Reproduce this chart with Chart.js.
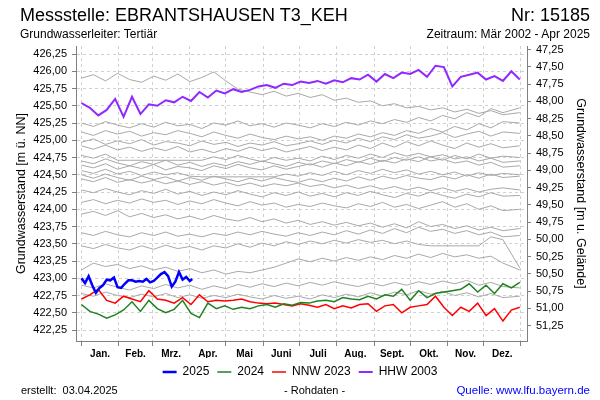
<!DOCTYPE html>
<html>
<head>
<meta charset="utf-8">
<script src="https://cdn.jsdelivr.net/npm/chart.js@4"></script>
<style>
  html, body { margin: 0; padding: 0; background: #fff; }
  #wrap { position: relative; width: 600px; height: 400px; font-family: 'Liberation Sans', Arial, sans-serif; color: #000; }
  #wrap canvas { position: absolute; left: 0; top: 0; }
  .txt { position: absolute; white-space: nowrap; line-height: 1; }
</style>
</head>
<body>
<div id="wrap">
  <canvas id="chart" width="600" height="400"></canvas>
  <div class="txt" style="left:20px; top:6px; font-size:18px;">Messstelle: EBRANTSHAUSEN T3_KEH</div>
  <div class="txt" style="right:10px; top:6px; font-size:18px;">Nr: 15185</div>
  <div class="txt" style="left:20px; top:28px; font-size:12px;">Grundwasserleiter: Tertiär</div>
  <div class="txt" style="right:10px; top:28px; font-size:12px;">Zeitraum: Mär 2002 - Apr 2025</div>
  <div class="txt" style="left:21px; top:385px; font-size:11px;">erstellt:&nbsp; 03.04.2025</div>
  <div class="txt" style="left:284px; top:385px; font-size:11px;">- Rohdaten -</div>
  <div class="txt" style="right:10px; top:385px; font-size:11.5px; color:#0000ff;">Quelle: www.lfu.bayern.de</div>
</div>
<script>

  /* ===================== DATA ===================== */

  // day of year (Jan 1 = 0)
  const monthStarts = [0, 31, 59, 90, 120, 151, 181, 212, 243, 273, 304, 334, 365];
  const monthNames = ['Jan.', 'Feb.', 'Mrz.', 'Apr.', 'Mai', 'Juni', 'Juli', 'Aug.', 'Sept.', 'Okt.', 'Nov.', 'Dez.'];

  const leftTicks = [422.25, 422.50, 422.75, 423.00, 423.25, 423.50, 423.75, 424.00, 424.25,
    424.50, 424.75, 425.00, 425.25, 425.50, 425.75, 426.00, 426.25];
  const rightTicks = [47.25, 47.50, 47.75, 48.00, 48.25, 48.50, 48.75, 49.00, 49.25,
    49.50, 49.75, 50.00, 50.25, 50.50, 50.75, 51.00, 51.25];

  const weekDays = [0, 7, 14, 21, 28, 35, 42, 49, 56, 63, 70, 77, 84, 91, 98, 105, 112, 119, 126, 133,
    140, 147, 154, 161, 168, 175, 182, 189, 196, 203, 210, 217, 224, 231, 238, 245, 252, 259, 266, 273,
    280, 287, 294, 301, 308, 315, 322, 329, 336, 343, 350, 357, 364];

  const days2025 = [0, 3, 6, 9, 12, 15, 18, 21, 24, 27, 30, 33, 36, 39, 42, 45, 48, 51, 54, 57,
    60, 63, 66, 69, 72, 75, 78, 81, 84, 87, 90, 92];

  const greyDays = [0, 10, 20, 30, 40, 50, 60, 70, 80, 90, 100, 110, 120, 130, 140, 150, 160, 170,
    180, 190, 200, 210, 220, 230, 240, 250, 260, 270, 280, 290, 300, 310, 320, 330, 340, 350, 364];

  const year2025 = [423.00, 422.93, 423.03, 422.90, 422.79, 422.86, 422.90, 422.98, 422.97, 423.01,
    422.87, 422.86, 422.92, 422.97, 422.97, 422.95, 422.96, 422.95, 422.99, 422.94, 422.96, 423.01,
    423.06, 423.09, 423.03, 422.88, 422.95, 423.09, 422.98, 423.02, 422.96, 422.99];

  const year2024 = [422.62, 422.52, 422.48, 422.42, 422.47, 422.54, 422.66, 422.52, 422.68, 422.56,
    422.50, 422.55, 422.68, 422.49, 422.43, 422.64, 422.56, 422.60, 422.55, 422.58,
    422.56, 422.60, 422.62, 422.58, 422.63, 422.61, 422.65, 422.64, 422.67, 422.68,
    422.66, 422.72, 422.70, 422.69, 422.74, 422.70, 422.76, 422.74, 422.84, 422.68,
    422.82, 422.72, 422.78, 422.80, 422.82, 422.84, 422.92, 422.80, 422.90, 422.78,
    422.92, 422.86, 422.94];

  const nnw2023 = [422.70, 422.76, 422.84, 422.68, 422.64, 422.74, 422.70, 422.66, 422.82, 422.70,
    422.68, 422.64, 422.72, 422.62, 422.76, 422.66, 422.68, 422.67, 422.68, 422.70,
    422.66, 422.64, 422.63, 422.64, 422.62, 422.60, 422.63, 422.61, 422.58, 422.62,
    422.56, 422.60, 422.57, 422.62, 422.63, 422.52, 422.60, 422.62, 422.50, 422.58,
    422.60, 422.62, 422.74, 422.58, 422.46, 422.58, 422.52, 422.64, 422.46, 422.56,
    422.38, 422.54, 422.58];

  const hhw2003 = [425.54, 425.47, 425.36, 425.44, 425.60, 425.34, 425.63, 425.38, 425.52, 425.50,
    425.58, 425.55, 425.63, 425.57, 425.70, 425.62, 425.72, 425.68, 425.74, 425.70,
    425.73, 425.78, 425.80, 425.76, 425.82, 425.80, 425.85, 425.83, 425.86, 425.82,
    425.87, 425.84, 425.90, 425.88, 425.95, 425.85, 425.96, 425.90, 425.98, 425.96,
    426.02, 425.92, 426.08, 426.06, 425.78, 425.92, 425.95, 425.98, 425.88, 425.93,
    425.86, 426.00, 425.88];

  // other years of the record (grey)
  const grey01 = [425.90, 425.95, 425.86, 425.97, 425.88, 425.84, 425.93, 425.87, 425.96, 425.85, 425.91, 425.99, 425.86, 425.74, 425.70, 425.66, 425.71, 425.64, 425.68, 425.62, 425.66, 425.58, 425.61, 425.55, 425.57, 425.50, 425.53, 425.47, 425.49, 425.44, 425.47, 425.41, 425.45, 425.39, 425.43, 425.37, 425.40];
  const grey02 = [425.25, 425.20, 425.27, 425.22, 425.18, 425.24, 425.19, 425.26, 425.21, 425.23, 425.17, 425.25, 425.22, 425.28, 425.21, 425.24, 425.19, 425.25, 425.22, 425.18, 425.24, 425.20, 425.26, 425.22, 425.28, 425.24, 425.30, 425.26, 425.33, 425.28, 425.36, 425.31, 425.40, 425.34, 425.46, 425.40, 425.47];
  const grey03 = [425.12, 425.07, 425.14, 425.09, 425.13, 425.06, 425.11, 425.08, 425.14, 425.10, 425.05, 425.12, 425.07, 425.03, 425.09, 425.04, 425.01, 425.06, 425.02, 425.05, 425.00, 425.06, 425.03, 425.09, 425.05, 425.11, 425.07, 425.14, 425.10, 425.17, 425.12, 425.20, 425.15, 425.24, 425.18, 425.27, 425.25];
  const grey04 = [424.97, 425.02, 424.94, 424.99, 424.95, 425.01, 424.93, 424.98, 424.96, 424.92, 424.99, 424.94, 424.97, 424.91, 424.96, 424.93, 424.98, 424.92, 424.95, 424.99, 424.94, 425.00, 424.96, 425.03, 424.98, 425.05, 425.01, 425.08, 425.03, 425.06, 425.11, 425.04, 425.09, 425.13, 425.06, 425.12, 425.10];
  const grey05 = [424.92, 424.87, 424.93, 424.86, 424.90, 424.84, 424.89, 424.85, 424.91, 424.83, 424.87, 424.82, 424.88, 424.84, 424.90, 424.85, 424.89, 424.83, 424.87, 424.91, 424.85, 424.90, 424.86, 424.93, 424.88, 424.96, 424.90, 424.98, 424.92, 424.99, 424.93, 424.88, 424.96, 424.90, 424.95, 424.89, 424.92];
  const grey06 = [424.78, 424.74, 424.80, 424.71, 424.71, 424.71, 424.71, 424.71, 424.71, 424.71, 424.71, 424.76, 424.72, 424.78, 424.73, 424.69, 424.75, 424.71, 424.74, 424.70, 424.77, 424.72, 424.78, 424.74, 424.80, 424.75, 424.82, 424.77, 424.81, 424.76, 424.79, 424.73, 424.76, 424.70, 424.74, 424.68, 424.70];
  const grey07 = [424.70, 424.66, 424.73, 424.67, 424.63, 424.69, 424.65, 424.71, 424.64, 424.68, 424.62, 424.67, 424.63, 424.69, 424.65, 424.70, 424.66, 424.62, 424.68, 424.64, 424.70, 424.66, 424.72, 424.68, 424.74, 424.69, 424.75, 424.71, 424.76, 424.70, 424.73, 424.67, 424.70, 424.64, 424.68, 424.61, 424.63];
  const grey08 = [424.64, 424.60, 424.66, 424.58, 424.63, 424.59, 424.65, 424.57, 424.62, 424.60, 424.56, 424.63, 424.59, 424.65, 424.60, 424.57, 424.63, 424.58, 424.62, 424.66, 424.61, 424.67, 424.63, 424.69, 424.65, 424.71, 424.67, 424.73, 424.69, 424.76, 424.71, 424.78, 424.73, 424.80, 424.74, 424.77, 424.75];
  const grey09 = [424.56, 424.52, 424.58, 424.51, 424.55, 424.49, 424.54, 424.50, 424.53, 424.48, 424.47, 424.47, 424.47, 424.47, 424.47, 424.47, 424.47, 424.51, 424.48, 424.53, 424.49, 424.55, 424.50, 424.56, 424.52, 424.58, 424.53, 424.57, 424.51, 424.55, 424.50, 424.54, 424.48, 424.53, 424.49, 424.52, 424.50];
  const grey10 = [424.50, 424.45, 424.51, 424.46, 424.42, 424.48, 424.43, 424.47, 424.41, 424.46, 424.42, 424.48, 424.44, 424.40, 424.45, 424.41, 424.46, 424.42, 424.39, 424.44, 424.40, 424.45, 424.41, 424.47, 424.42, 424.48, 424.44, 424.49, 424.45, 424.43, 424.48, 424.44, 424.50, 424.45, 424.51, 424.46, 424.48];
  const grey11 = [424.44, 424.40, 424.46, 424.39, 424.43, 424.38, 424.42, 424.37, 424.41, 424.36, 424.40, 424.35, 424.39, 424.34, 424.38, 424.33, 424.37, 424.34, 424.38, 424.33, 424.36, 424.31, 424.35, 424.30, 424.34, 424.29, 424.33, 424.28, 424.32, 424.27, 424.31, 424.26, 424.30, 424.25, 424.29, 424.31, 424.28];
  const grey12 = [424.28, 424.24, 424.30, 424.25, 424.21, 424.27, 424.23, 424.29, 424.22, 424.26, 424.20, 424.25, 424.21, 424.27, 424.22, 424.18, 424.24, 424.20, 424.25, 424.19, 424.23, 424.18, 424.24, 424.20, 424.26, 424.21, 424.17, 424.23, 424.19, 424.25, 424.20, 424.16, 424.22, 424.18, 424.24, 424.19, 424.20];
  const grey13 = [424.10, 424.14, 424.08, 424.13, 424.09, 424.15, 424.10, 424.13, 424.07, 424.12, 424.08, 424.14, 424.09, 424.05, 424.11, 424.06, 424.09, 424.03, 424.07, 424.04, 424.09, 424.05, 424.02, 424.08, 424.04, 424.10, 424.03, 424.07, 424.01, 424.06, 424.11, 424.03, 424.08, 424.00, 424.05, 423.98, 424.00];
  const grey14 = [423.93, 423.97, 423.91, 423.98, 423.89, 423.94, 423.88, 423.92, 423.86, 423.90, 423.85, 423.91, 423.86, 423.83, 423.88, 423.82, 423.86, 423.80, 423.84, 423.78, 423.82, 423.77, 423.81, 423.76, 423.80, 423.74, 423.79, 423.73, 423.82, 423.75, 423.78, 423.72, 423.76, 423.70, 423.74, 423.69, 423.72];
  const grey15 = [423.66, 423.62, 423.68, 423.63, 423.60, 423.66, 423.62, 423.67, 423.61, 423.64, 423.60, 423.65, 423.62, 423.67, 423.63, 423.68, 423.64, 423.61, 423.66, 423.62, 423.67, 423.63, 423.69, 423.64, 423.70, 423.65, 423.72, 423.66, 423.74, 423.68, 423.71, 423.65, 423.69, 423.63, 423.67, 423.60, 423.62];
  const grey16 = [423.47, 423.43, 423.49, 423.44, 423.41, 423.47, 423.42, 423.48, 423.43, 423.46, 423.41, 423.47, 423.44, 423.50, 423.45, 423.51, 423.47, 423.53, 423.49, 423.54, 423.50, 423.55, 423.51, 423.56, 423.52, 423.55, 423.50, 423.54, 423.49, 423.47, 423.47, 423.47, 423.47, 423.47, 423.60, 423.56, 423.15];
  const grey17 = [423.12, 423.22, 423.17, 423.20, 423.14, 423.18, 423.12, 423.16, 423.10, 423.14, 423.08, 423.12, 423.06, 423.10, 423.08, 423.12, 423.16, 423.22, 423.28, 423.24, 423.29, 423.25, 423.30, 423.26, 423.31, 423.27, 423.33, 423.29, 423.35, 423.30, 423.36, 423.31, 423.34, 423.29, 423.32, 423.22, 423.12];
  const grey18 = [422.90, 422.86, 422.92, 422.87, 422.83, 422.89, 422.85, 422.91, 422.86, 422.90, 422.84, 422.89, 422.85, 422.91, 422.87, 422.92, 422.88, 422.93, 422.89, 422.94, 422.90, 422.95, 422.91, 422.88, 422.93, 422.89, 422.94, 422.90, 422.95, 422.91, 422.96, 422.92, 422.97, 422.90, 422.94, 422.88, 422.86];
  const grey19 = [422.78, 422.74, 422.80, 422.75, 422.72, 422.77, 422.73, 422.78, 422.72, 422.76, 422.71, 422.75, 422.72, 422.77, 422.73, 422.70, 422.75, 422.71, 422.74, 422.70, 422.76, 422.72, 422.77, 422.73, 422.79, 422.74, 422.80, 422.76, 422.82, 422.77, 422.81, 422.75, 422.79, 422.73, 422.78, 422.72, 422.74];

  const greyLines = [grey01, grey02, grey03, grey04, grey05, grey06, grey07, grey08, grey09, grey10,
    grey11, grey12, grey13, grey14, grey15, grey16, grey17, grey18, grey19];

  /* ===================== CHART ===================== */

  const gridColor = 'rgb(208, 208, 208)';
  const axisColor = 'rgb(128, 128, 128)';
  const greyColor = 'rgb(168, 168, 168)';

  Chart.defaults.font.family = "'Liberation Sans', Arial, sans-serif";
  Chart.defaults.color = '#000';

  let monthMids = monthStarts.slice(0, 12).map((s, i) => (s + monthStarts[i + 1]) / 2);
  let xTicks = monthStarts.concat(monthMids).sort((a, b) => a - b);
  let isStart = c => c.tick && monthStarts.includes(c.tick.value);

  let xy = (xs, ys) => ys.map((v, i) => ({ x: xs[i], y: v }));
  let comma = v => v.toFixed(2).replace('.', ',');

  let datasets = [
    { label: '2025', data: xy(days2025, year2025), borderColor: 'rgb(0, 0, 255)', borderWidth: 2.5 },
    { label: '2024', data: xy(weekDays, year2024), borderColor: 'rgb(30, 130, 30)', borderWidth: 1.5 },
    { label: 'NNW 2023', data: xy(weekDays, nnw2023), borderColor: 'rgb(255, 0, 0)', borderWidth: 1.5 },
    { label: 'HHW 2003', data: xy(weekDays, hhw2003), borderColor: 'rgb(145, 40, 255)', borderWidth: 2 },
  ];
  greyLines.forEach((g, i) => {
    datasets.push({ label: 'grey' + (i + 1), data: xy(greyDays, g), borderColor: greyColor, borderWidth: 1 });
  });

  new Chart(document.getElementById('chart'), {
    type: 'line',
    data: { datasets },
    options: {
      responsive: false,
      animation: false,
      elements: { point: { radius: 0 }, line: { tension: 0 } },
      layout: { padding: { top: 46, bottom: 12, left: 0, right: 0 } },
      plugins: {
        tooltip: { enabled: false },
        legend: {
          position: 'bottom',
          labels: {
            filter: item => item.datasetIndex < 4,
            usePointStyle: true,
            pointStyle: 'line',
            pointStyleWidth: 14,
            font: { size: 12 },
            color: '#000',
            padding: 8
          }
        }
      },
      scales: {
        x: {
          type: 'linear',
          min: -4.5,
          max: 370,
          afterBuildTicks: s => { s.ticks = xTicks.map(v => ({ value: v })); },
          afterFit: s => { s.height = 17; },
          ticks: {
            autoSkip: false,
            maxRotation: 0,
            padding: 2,
            font: { size: 10, weight: 'bold' },
            color: '#000',
            callback: v => { let i = monthMids.indexOf(v); return i >= 0 ? monthNames[i] : ''; }
          },
          grid: {
            color: c => isStart(c) ? gridColor : 'transparent',
            tickColor: c => isStart(c) ? axisColor : 'transparent',
            tickLength: 5,
            tickBorderDash: []
          },
          border: { color: axisColor, dash: [3, 3] }
        },
        y: {
          position: 'left',
          min: 422.091,
          max: 426.366,
          afterBuildTicks: s => { s.ticks = leftTicks.map(v => ({ value: v })); },
          afterFit: s => { s.width = 76; },
          ticks: { font: { size: 11 }, color: '#000', padding: 5, callback: comma },
          grid: { color: gridColor, tickColor: axisColor, tickLength: 4, tickBorderDash: [] },
          border: { color: axisColor, dash: [3, 3] },
          title: {
            display: true, text: 'Grundwasserstand [m ü. NN]',
            font: { size: 12.5 }, color: '#000', padding: { top: 14, bottom: 0 }
          }
        },
        y2: {
          position: 'right',
          reverse: true,
          min: 47.199,
          max: 51.474,
          afterBuildTicks: s => { s.ticks = rightTicks.map(v => ({ value: v })); },
          afterFit: s => { s.width = 73; },
          ticks: { font: { size: 11 }, color: '#000', padding: 5, callback: comma },
          grid: { drawOnChartArea: false, tickColor: axisColor, tickLength: 4, tickBorderDash: [] },
          border: { color: axisColor },
          title: {
            display: true, text: 'Grundwasserstand [m u. Gelände]',
            font: { size: 12.5 }, color: '#000', padding: { top: 12, bottom: 0 }
          }
        }
      }
    }
  });

</script>
</body>
</html>
